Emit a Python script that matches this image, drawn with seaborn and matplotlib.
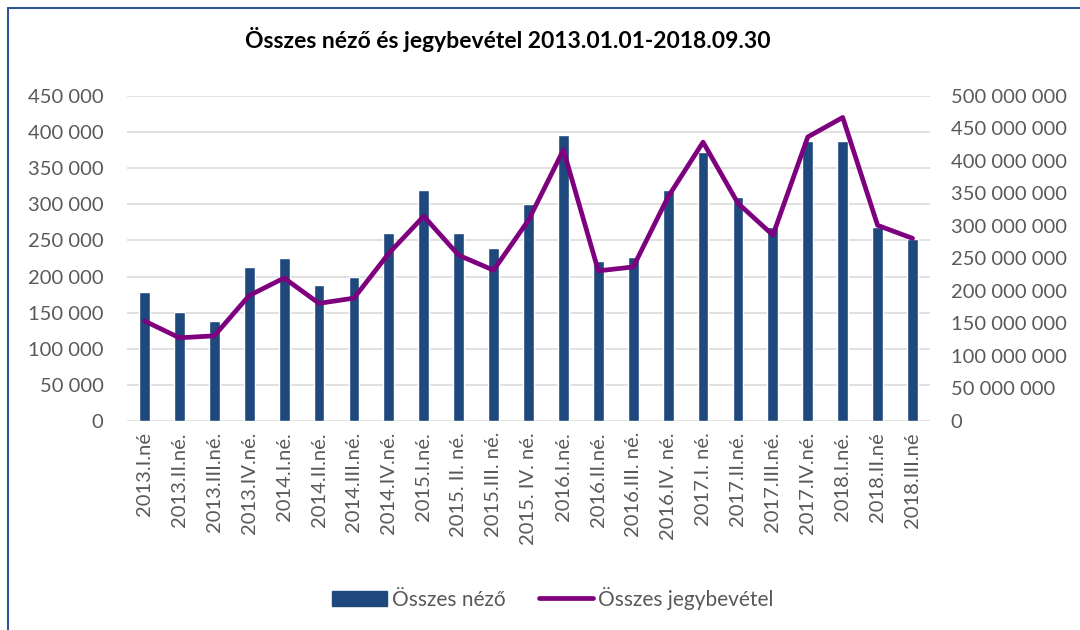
"""Összes néző és jegybevétel, negyedéves bontásban."""

import numpy as np
import pandas as pd
import seaborn as sns
import matplotlib.pyplot as plt
import matplotlib.patches as mpatches
import matplotlib.lines as mlines
from matplotlib.ticker import FuncFormatter, MultipleLocator

# Negyedévek (x tengely).
quarters = [
    "2013.I.né", "2013.II.né.", "2013.III.né.", "2013.IV.né.",
    "2014.I.né.", "2014.II.né.", "2014.III.né.", "2014.IV.né.",
    "2015.I.né.", "2015. II. né.", "2015.III. né.", "2015. IV. né.",
    "2016.I.né.", "2016.II.né.", "2016.III. né.", "2016.IV. né.",
    "2017.I. né.", "2017.II.né.", "2017.III.né.", "2017.IV.né.",
    "2018.I.né.", "2018.II.né", "2018.III.né",
]

# Összes néző (bal tengely).
viewers = [
    178000, 151000, 139000, 213000, 226000, 188000, 199000, 260000,
    320000, 260000, 239000, 300000, 396000, 222000, 227000, 320000,
    373000, 310000, 268000, 388000, 387000, 268000, 252000,
]

# Összes jegybevétel, Ft (jobb tengely).
revenue = [
    154e6, 128e6, 131e6, 193e6, 220e6, 181e6, 189e6, 258e6,
    315e6, 255e6, 232e6, 309e6, 417e6, 231e6, 237e6, 345e6,
    429e6, 335e6, 286e6, 437e6, 467e6, 301e6, 281e6,
]

bar_color = "#1F497D"
line_color = "#7F007F"
text_color = "#595959"

df = pd.DataFrame({"quarter": quarters, "viewers": viewers, "revenue": revenue})
df["pos"] = np.arange(len(df))

sns.set_style("white")
plt.rcParams["font.family"] = ["Lato", "DejaVu Sans"]
plt.rcParams["ytick.major.pad"] = 17
plt.rcParams["xtick.major.pad"] = 8


def space_thousands(v, _):
    return f"{int(round(v)):,}".replace(",", " ")


fig = plt.figure(figsize=(10.8, 6.3), dpi=100)
ax = fig.add_axes([127 / 1080, 1 - 421 / 630, 803 / 1080, 325 / 630])

# Oszlopok.
sns.barplot(data=df, x="quarter", y="viewers", color=bar_color,
            width=0.31, saturation=1, ax=ax, zorder=2)

# Vonal a másodlagos tengelyen.
ax2 = ax.twinx()
sns.lineplot(data=df, x="pos", y="revenue", color=line_color,
             linewidth=3.4, ax=ax2, zorder=3)

ax.set_xlim(-0.5, len(quarters) - 0.5)
ax.set_ylim(0, 450000)
ax2.set_ylim(0, 500000000)
ax.yaxis.set_major_locator(MultipleLocator(50000))
ax2.yaxis.set_major_locator(MultipleLocator(50000000))
ax.yaxis.set_major_formatter(FuncFormatter(space_thousands))
ax2.yaxis.set_major_formatter(FuncFormatter(space_thousands))

ax.grid(axis="y", color="#D9D9D9", linewidth=1.1, zorder=0)
ax.set_axisbelow(True)
ax2.grid(False)
for a in (ax, ax2):
    for s in a.spines.values():
        s.set_visible(False)
    a.set_xlabel("")
    a.set_ylabel("")
    a.tick_params(length=0, labelsize=14.5, labelcolor=text_color)

ax.set_xticks(range(len(quarters)))
ax.set_xticklabels(quarters, rotation=90, fontsize=14.5, color=text_color)
ax.yaxis.set_tick_params(pad=17)
ax2.yaxis.set_tick_params(pad=15)

# Cím.
fig.text(508 / 1080, 1 - 40 / 630,
         "Összes néző és jegybevétel 2013.01.01-2018.09.30",
         ha="center", va="center", fontsize=16.5, fontweight="bold",
         color="black")

# Jelmagyarázat.
handles = [
    mpatches.Rectangle((0, 0), 1, 1, color=bar_color),
    mlines.Line2D([], [], color=line_color, linewidth=3.4,
                  solid_capstyle="round"),
]
fig.legend(handles=handles, labels=["Összes néző", "Összes jegybevétel"],
           loc="center", bbox_to_anchor=(553 / 1080, 1 - 598 / 630),
           ncol=2, frameon=False, fontsize=15, labelcolor=text_color,
           handlelength=2.6, handleheight=0.7, handletextpad=0.25,
           columnspacing=1.6)

# Keret.
fig.add_artist(mlines.Line2D([8 / 1080, 1], [1 - 8 / 630, 1 - 8 / 630],
                             color="#2F5597", linewidth=1.5))
fig.add_artist(mlines.Line2D([8 / 1080, 8 / 1080], [0, 1 - 8 / 630],
                             color="#2F5597", linewidth=1.5))

fig.savefig("out.png", dpi=100)
plt.close()
